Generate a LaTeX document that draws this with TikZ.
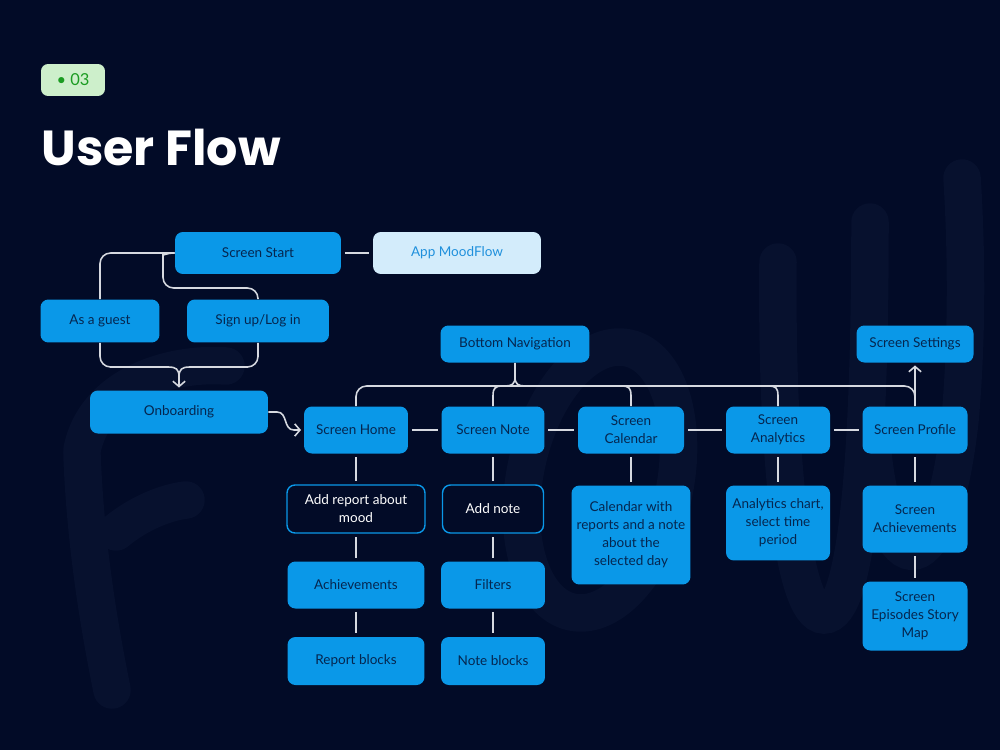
\documentclass[tikz,border=0pt]{standalone}
\usepackage{fontspec}
\setmainfont{Lato}
\newfontfamily\headfont{Poppins}
\usetikzlibrary{arrows.meta,positioning}
\definecolor{navybg}{HTML}{020B27}
\definecolor{wmcolor}{HTML}{07112E}
\definecolor{boxblue}{HTML}{0A98E8}
\definecolor{boxtext}{HTML}{05264F}
\definecolor{appfill}{HTML}{D3ECFB}
\definecolor{apptext}{HTML}{1F90DC}
\definecolor{linkgrey}{HTML}{D6D9E0}
\definecolor{badgefill}{HTML}{CDEFCB}
\definecolor{badgetext}{HTML}{1B9C22}

\begin{document}
\begin{tikzpicture}[x=0.02cm,y=-0.02cm,
  font=\fontsize{7.7}{10.2}\selectfont,
  boxbase/.style={rounded corners=4.5pt,align=center,inner sep=2pt},
  scr/.style={boxbase,fill=boxblue,text=boxtext},
  outl/.style={boxbase,draw=boxblue,line width=0.8pt,fill=navybg,text=white},
  appbox/.style={boxbase,fill=appfill,text=apptext},
  link/.style={draw=linkgrey,line width=0.9pt},
  flowarrow/.style={link,-{Straight Barb[length=3pt,width=7pt]}},
  waterline/.style={draw=wmcolor,line width=0.75cm,line cap=round}]
% background and the faint "Flow" lettering
\fill[navybg] (0,0) rectangle (1000,750);
\draw[waterline] (82,455) .. controls (86,560) and (104,650) .. (112,690);
\draw[waterline] (82,450) .. controls (95,385) and (170,362) .. (226,366);
\draw[waterline] (116,532) .. controls (140,512) and (168,502) .. (186,500);
\draw[waterline,rotate around={-12:(600,480)}] (600,480) ellipse (75 and 135);
\draw[waterline] (778,262) .. controls (776,450) and (792,615) .. (824,615)
  .. controls (858,615) and (870,450) .. (870,222);
\draw[waterline] (870,420) .. controls (880,590) and (940,600) .. (960,420)
  .. controls (968,330) and (966,240) .. (962,178);

% header
\node[fill=badgefill,rounded corners=4pt,minimum width=1.28cm,minimum height=0.64cm,
      text=badgetext,font=\fontsize{9.4}{11}\selectfont] (badge) at (73,80) {\textbullet\ 03};
\node[anchor=base west,inner sep=0pt,text=white,font=\headfont\bfseries\fontsize{28}{32}\selectfont]
     (title) at (41,165) {User Flow};

% entry
\node[scr,minimum width=3.32cm,minimum height=0.84cm] (start) at (258,253) {Screen Start};
\node[appbox,minimum width=3.36cm,minimum height=0.84cm] (app) at (457,253) {App MoodFlow};
\node[scr,minimum width=2.38cm,minimum height=0.86cm] (guest) at (100,321) {As a guest};
\node[scr,minimum width=2.84cm,minimum height=0.86cm] (signup) at (258,321) {Sign up/Log in};
\node[scr,minimum width=3.56cm,minimum height=0.86cm] (onb) at (179,412) {Onboarding};
\node[scr,minimum width=2.98cm,minimum height=0.74cm] (nav) at (515,344) {Bottom Navigation};
\node[scr,minimum width=2.34cm,minimum height=0.74cm] (settings) at (915,344) {Screen Settings};

% main screens
\node[scr,minimum width=2.08cm,minimum height=0.94cm] (home) at (356,430) {Screen Home};
\node[scr,minimum width=2.06cm,minimum height=0.94cm] (note) at (493,430) {Screen Note};
\node[scr,minimum width=2.12cm,minimum height=0.94cm] (calendar) at (631,430) {Screen\\Calendar};
\node[scr,minimum width=2.08cm,minimum height=0.94cm] (analytics) at (778,430) {Screen\\Analytics};
\node[scr,minimum width=2.10cm,minimum height=0.94cm] (profile) at (915,430) {Screen Profile};

% sub screens
\node[outl,minimum width=2.76cm,minimum height=0.96cm] (addrep) at (356,509) {Add report about\\mood};
\node[outl,minimum width=2.02cm,minimum height=0.96cm] (addnote) at (493,509) {Add note};
\node[scr,minimum width=2.74cm,minimum height=0.94cm] (achv) at (356,585) {Achievements};
\node[scr,minimum width=2.08cm,minimum height=0.94cm] (filters) at (493,585) {Filters};
\node[scr,minimum width=2.74cm,minimum height=0.96cm] (repblk) at (356,661) {Report blocks};
\node[scr,minimum width=2.08cm,minimum height=0.96cm] (noteblk) at (493,661) {Note blocks};
\node[scr,minimum width=2.38cm,minimum height=1.98cm] (calview) at (631,535)
     {Calendar with\\reports and a note\\about the\\selected day};
\node[scr,minimum width=2.08cm,minimum height=1.50cm] (chart) at (778,523)
     {Analytics chart,\\select time\\period};
\node[scr,minimum width=2.10cm,minimum height=1.34cm] (scrachv) at (915,519) {Screen\\Achievements};
\node[scr,minimum width=2.10cm,minimum height=1.38cm] (story) at (915,616) {Screen\\Episodes Story\\Map};

% connectors
\draw[link,shorten <=2pt,shorten >=2pt] (start.east) -- (app.west);
\draw[link,rounded corners=6pt] (start.west) -- (100,253) -- (guest.north);
\draw[link,rounded corners=6pt] (start.west) .. controls (166,253) and (163,256) .. (163,265)
  -- (163,288) -- (258,288) -- (signup.north);
\draw[link,rounded corners=6pt] (guest.south) -- (100,367) -- (168,367);
\draw[link,rounded corners=6pt] (signup.south) -- (258,367) -- (190,367);
\draw[link] (168,367) .. controls (176,367) and (179,369) .. (179,377);
\draw[link] (190,367) .. controls (182,367) and (179,369) .. (179,377);
\draw[flowarrow,shorten >=1.5pt] (179,376) -- (onb.north);
\draw[flowarrow,shorten >=1.5pt] (onb.east) -- (277,412) .. controls (288,412) and (283,430) .. (294,430)
  -- (home.west);

\draw[link] (nav.south) -- (515,377) .. controls (515,384) and (512,386) .. (505,386);
\draw[link] (515,377) .. controls (515,384) and (518,386) .. (525,386);
\draw[link,rounded corners=6pt] (home.north) -- (356,386) -- (915,386) -- (profile.north);
\draw[link] (note.north) -- (493,396) .. controls (493,388) and (495,386) .. (503,386);
\draw[link] (calendar.north) -- (631,396) .. controls (631,388) and (629,386) .. (621,386);
\draw[link] (analytics.north) -- (778,396) .. controls (778,388) and (776,386) .. (768,386);
\draw[flowarrow,shorten >=1.5pt] (profile.north) -- (settings.south);

\foreach \a/\b in {home/note,note/calendar,calendar/analytics,analytics/profile}
  \draw[link,shorten <=2pt,shorten >=2pt] (\a.east) -- (\b.west);
\foreach \a/\b in {home/addrep,addrep/achv,achv/repblk,note/addnote,addnote/filters,
                   filters/noteblk,calendar/calview,analytics/chart,profile/scrachv,scrachv/story}
  \draw[link,shorten <=2pt,shorten >=2pt] (\a.south) -- (\b.north);
\end{tikzpicture}
\end{document}
